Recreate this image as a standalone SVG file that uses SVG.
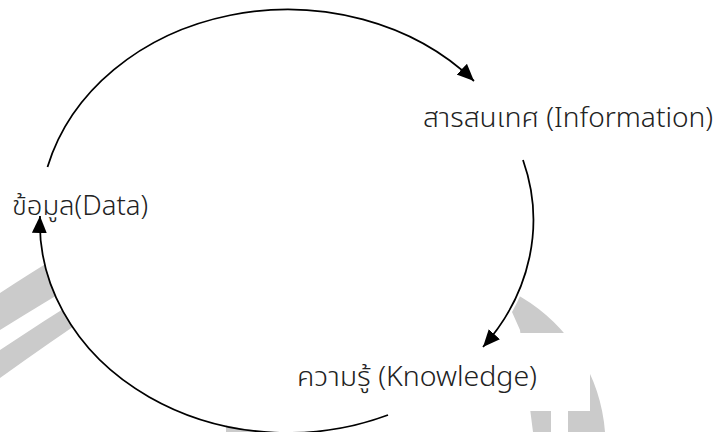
<svg xmlns="http://www.w3.org/2000/svg" width="721" height="432" viewBox="0 0 721 432">
<style>
.lbl{font-family:"Noto Sans Thai","Noto Sans",sans-serif;font-size:27px;font-weight:300;fill:#222}
.arc{fill:none;stroke:#000;stroke-width:1.75}
.wm{fill:#cbcbcb}
.bg{fill:#fff}
</style>
<defs>
<marker id="ah" markerUnits="userSpaceOnUse" markerWidth="18" markerHeight="16" refX="17" refY="7.5" orient="auto">
<path d="M0,0 L17,7.5 L0,15 Z" fill="#000"/>
</marker>
</defs>
<rect class="bg" x="0" y="0" width="721" height="432"/>
<g id="watermark">
<path class="wm" d="M0,293 Q35,270 75,246 L86,278 Q45,302 0,330 Z"/>
<path class="wm" d="M0,350 Q45,320 90,292 L98,310 Q50,342 0,378 Z"/>
<path class="wm" d="M500,285 L521,297 A172,172 0 0 1 605,432 L533,432 L520,330 Z"/>
<rect class="wm" x="226" y="424" width="30" height="8"/>
<ellipse class="bg" cx="288" cy="222" rx="248" ry="210"/>
<rect class="bg" x="440" y="333" width="150" height="78"/>
<rect class="bg" x="551" y="405" width="17" height="27"/>
</g>
<g id="connectors">
<path class="arc" d="M47.5,167 A248,210 0 0 1 474,81" marker-end="url(#ah)"/>
<path class="arc" d="M523,160 A248,210 0 0 1 483,347" marker-end="url(#ah)"/>
<path class="arc" d="M388,415 A248,210 0 0 1 40,216" marker-end="url(#ah)"/>
</g>
<g id="node-data">
<text class="lbl" x="12" y="215" textLength="136" lengthAdjust="spacingAndGlyphs">ข้อมูล(Data)</text>
</g>
<g id="node-information">
<text class="lbl" x="423" y="127" textLength="290" lengthAdjust="spacingAndGlyphs">สารสนเทศ (Information)</text>
</g>
<g id="node-knowledge">
<text class="lbl" x="297" y="386" textLength="240" lengthAdjust="spacingAndGlyphs">ความรู้ (Knowledge)</text>
</g>
</svg>
